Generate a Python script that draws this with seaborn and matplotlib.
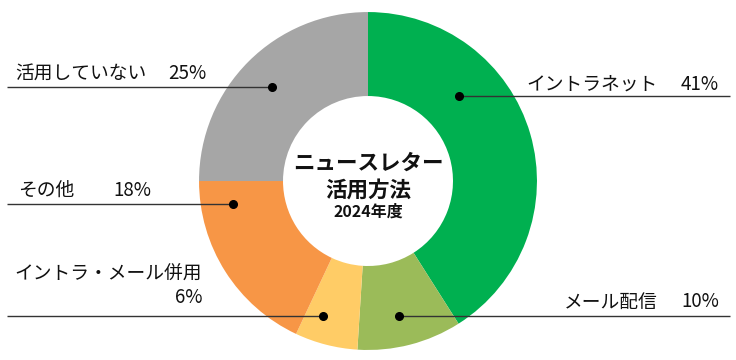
import matplotlib
matplotlib.use("Agg")
import matplotlib.pyplot as plt
import seaborn as sns

sns.set_style("white")
plt.rcParams['font.family'] = ['Noto Sans CJK JP', 'DejaVu Sans']

# Data
categories = ["イントラネット", "メール配信", "イントラ・メール併用", "その他", "活用していない"]
values = [41, 10, 6, 18, 25]
colors = ["#00B050", "#9BBB59", "#FFCC66", "#F79646", "#A6A6A6"]
title_lines = ["ニュースレター", "活用方法"]
subtitle = "2024年度"

fig = plt.figure(figsize=(7.36, 3.6), dpi=100)
ax = fig.add_axes([0, 0, 1, 1])
ax.pie(values, colors=colors, startangle=90, counterclock=False, radius=1.0,
       wedgeprops=dict(width=0.497, edgecolor="none"))
ax.set_xlim(-2.178, 2.178)
ax.set_ylim(-1.059, 1.071)
ax.set_aspect("equal")
ax.axis("off")


def px(x):
    return (x - 368) / 169


def py(y):
    return (181 - y) / 169


# layout: dot (px), line end x (px), name (x, y, ha), pct (x, y, ha)
layout = {
    "活用していない": ((272, 87), 7, (15, 73, "left"), (168, 73, "left")),
    "イントラネット": ((459, 96), 730, (658, 84, "right"), (719, 84, "right")),
    "その他": ((233, 204), 7, (18, 190, "left"), (113, 190, "left")),
    "イントラ・メール併用": ((323, 316), 7, (202, 274, "right"), (202, 298, "right")),
    "メール配信": ((399, 316), 730, (658, 302, "right"), (719, 302, "right")),
}

fs = 13.5
for cat, val in zip(categories, values):
    (dx, dy), lx, (nx, ny, nha), (qx, qy, qha) = layout[cat]
    ax.plot([px(dx), px(lx)], [py(dy), py(dy)], color="#333333", lw=1.0,
            solid_capstyle="butt")
    ax.plot([px(dx)], [py(dy)], marker="o", color="black", markersize=5.5)
    ax.text(px(nx), py(ny), cat, ha=nha, va="center", fontsize=fs, color="#111111")
    ax.text(px(qx), py(qy), f"{val}%", ha=qha, va="center", fontsize=fs, color="#111111")

ax.text(0, py(163), title_lines[0], ha="center", va="center",
        fontsize=15.5, fontweight="bold", color="#111111")
ax.text(0, py(190), title_lines[1], ha="center", va="center",
        fontsize=15.5, fontweight="bold", color="#111111")
ax.text(0, py(212), subtitle, ha="center", va="center",
        fontsize=11.5, fontweight="bold", color="#111111")

fig.savefig("out.png", dpi=100)
